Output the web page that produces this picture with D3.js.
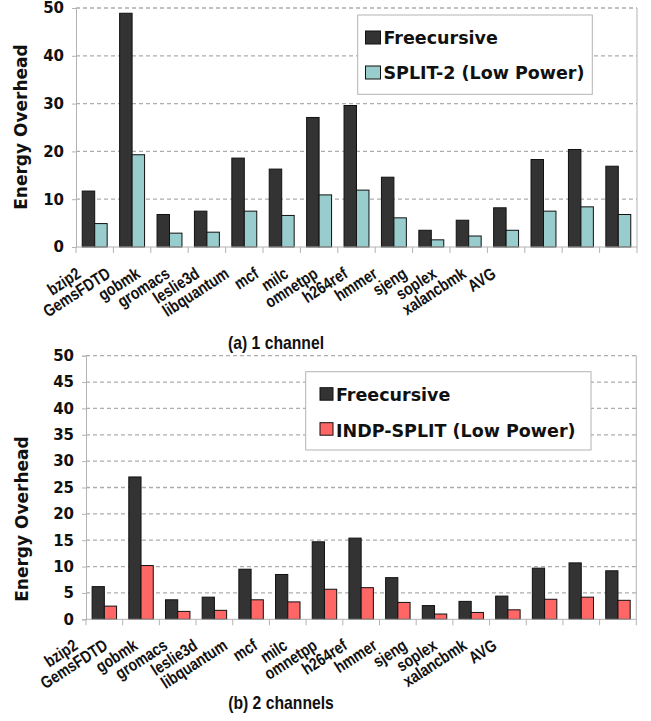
<!DOCTYPE html>
<html>
<head>
<meta charset="utf-8">
<script src="https://cdn.jsdelivr.net/npm/d3@7"></script>
<style>
body { margin:0; background:#fff; }
svg { display:block; }
</style>
</head>
<body>
<div id="content"></div>
<script>
var categories = ['bzip2','GemsFDTD','gobmk','gromacs','leslie3d','libquantum','mcf','milc','omnetpp','h264ref','hmmer','sjeng','soplex','xalancbmk','AVG'];

// (a) 1 channel
var freecursive1 = [11.7, 48.9, 6.8, 7.5, 18.6, 16.3, 27.1, 29.6, 14.6, 3.5, 5.6, 8.2, 18.3, 20.4, 16.9];
var split2 = [4.9, 19.3, 2.9, 3.1, 7.5, 6.6, 10.9, 11.9, 6.1, 1.5, 2.3, 3.5, 7.5, 8.4, 6.8];
var ticks1 = [0, 10, 20, 30, 40, 50];

// (b) 2 channels
var freecursive2 = [6.2, 27.0, 3.7, 4.2, 9.5, 8.5, 14.7, 15.4, 7.9, 2.6, 3.4, 4.4, 9.7, 10.7, 9.2];
var indpSplit = [2.5, 10.2, 1.5, 1.7, 3.7, 3.3, 5.7, 6.0, 3.2, 1.0, 1.3, 1.8, 3.8, 4.2, 3.6];
var ticks2 = [0, 5, 10, 15, 20, 25, 30, 35, 40, 45, 50];

var seriesA = ['Freecursive', 'SPLIT-2 (Low Power)'];
var seriesB = ['Freecursive', 'INDP-SPLIT (Low Power)'];

var svg = d3.select('#content').append('svg').attr('width', 651).attr('height', 721);

drawChart({
	left : 76, right : 637, top : 8, bottom : 247,
	vals : [freecursive1, split2], names : seriesA, ticks : ticks1,
	colors : ['#333333', '#99cccc'],
	labelRange : [82, 497], labelDy : 29.5,
	yLabel : [27, 127],
	legend : {x:357.7, y:15, w:234.6, h:79.3, sq:15, sqh:13, sqTop:[31, 66], tx:383.5, base:[44.3, 78.5]},
	caption : ['(a) 1 channel', 276, 349]
});

drawChart({
	left : 86, right : 636.3, top : 355.7, bottom : 619.3,
	vals : [freecursive2, indpSplit], names : seriesB, ticks : ticks2,
	colors : ['#333333', '#ff6666'],
	labelRange : [79, 498], labelDy : 29,
	yLabel : [28, 519],
	legend : {x:305.7, y:371.7, w:285.3, h:78.3, sq:13, sqh:12.5, sqTop:[387.7, 422.7], tx:336, base:[401, 436.7]},
	caption : ['(b) 2 channels', 281, 709]
});

function drawChart(c){
	var g = svg.append('g');
	var x0 = d3.scaleBand().domain(categories).range([c.left, c.right]).paddingInner(0).paddingOuter(0);
	var x1 = d3.scaleBand().domain([0, 1]).range([0, x0.bandwidth()]).paddingInner(0).paddingOuter(0.5);
	var y = d3.scaleLinear().domain([0, 50]).range([c.bottom, c.top]);
	var xl = d3.scalePoint().domain(categories).range(c.labelRange);

	// grid
	g.selectAll('.grid').data(c.ticks.filter(function(d){ return d > 0; })).enter().append('line')
		.attr('x1', c.left).attr('x2', c.right)
		.attr('y1', function(d){ return y(d); }).attr('y2', function(d){ return y(d); })
		.attr('stroke', '#adadad').attr('stroke-width', 1.3).attr('stroke-dasharray', '4,3');

	// y axis
	var ya = g.append('g').attr('transform', 'translate(' + c.left + ',0)')
		.call(d3.axisLeft(y).tickValues(c.ticks).tickSize(4).tickPadding(8));
	ya.select('.domain').attr('stroke', '#b3b3b3');
	ya.selectAll('.tick line').attr('stroke', '#b3b3b3');
	ya.selectAll('text').attr('font-family', 'DejaVu Sans').attr('font-weight', 'bold')
		.attr('font-size', 15).attr('fill', '#111');

	// right border
	g.append('line').attr('x1', c.right).attr('x2', c.right).attr('y1', c.top).attr('y2', c.bottom)
		.attr('stroke', '#b3b3b3');

	// bars
	for(var s=0; s<2; s++){
		g.selectAll('.bar' + s).data(c.vals[s]).enter().append('rect')
			.attr('x', function(d, i){ return x0(categories[i]) + x1(s); })
			.attr('y', function(d){ return y(d); })
			.attr('width', x1.bandwidth())
			.attr('height', function(d){ return y(0) - y(d); })
			.attr('fill', c.colors[s]).attr('stroke', '#111').attr('stroke-width', 1);
	}

	// x axis
	g.append('line').attr('x1', c.left).attr('x2', c.right).attr('y1', c.bottom).attr('y2', c.bottom)
		.attr('stroke', '#b3b3b3');
	var bounds = categories.map(function(d){ return x0(d); }).concat([c.right]);
	g.selectAll('.xt').data(bounds).enter().append('line')
		.attr('x1', function(d){ return d; }).attr('x2', function(d){ return d; })
		.attr('y1', c.bottom).attr('y2', c.bottom + 6)
		.attr('stroke', '#b3b3b3');

	// narrow, slanted category labels
	g.selectAll('.xl').data(categories).enter().append('text')
		.attr('transform', function(d){ return 'translate(' + xl(d) + ',' + (c.bottom + c.labelDy) + ') rotate(-33) scale(0.82,1)'; })
		.attr('text-anchor', 'end')
		.attr('font-family', 'Liberation Sans').attr('font-weight', 'bold').attr('font-size', 17)
		.attr('fill', '#111')
		.text(function(d){ return d; });

	// y label
	g.append('text')
		.attr('transform', 'translate(' + c.yLabel[0] + ',' + c.yLabel[1] + ') rotate(-90)')
		.attr('text-anchor', 'middle')
		.attr('font-family', 'DejaVu Sans').attr('font-weight', 'bold').attr('font-size', 17)
		.attr('fill', '#111')
		.text('Energy Overhead');

	// legend
	var L = c.legend;
	g.append('rect').attr('x', L.x).attr('y', L.y).attr('width', L.w).attr('height', L.h)
		.attr('fill', '#fff').attr('stroke', '#b3b3b3');
	for(var k=0; k<2; k++){
		g.append('rect').attr('x', L.tx - L.sq - 3).attr('y', L.sqTop[k]).attr('width', L.sq).attr('height', L.sqh)
			.attr('fill', c.colors[k]).attr('stroke', '#111');
		g.append('text').attr('x', L.tx).attr('y', L.base[k])
			.attr('font-family', 'DejaVu Sans').attr('font-weight', 'bold').attr('font-size', 17.5)
			.attr('fill', '#111')
			.text(c.names[k]);
	}

	// caption
	g.append('text')
		.attr('transform', 'translate(' + c.caption[1] + ',' + c.caption[2] + ') scale(0.85,1)')
		.attr('text-anchor', 'middle')
		.attr('font-family', 'Liberation Sans').attr('font-weight', 'bold').attr('font-size', 18.5)
		.attr('fill', '#111')
		.text(c.caption[0]);
}
</script>
</body>
</html>
